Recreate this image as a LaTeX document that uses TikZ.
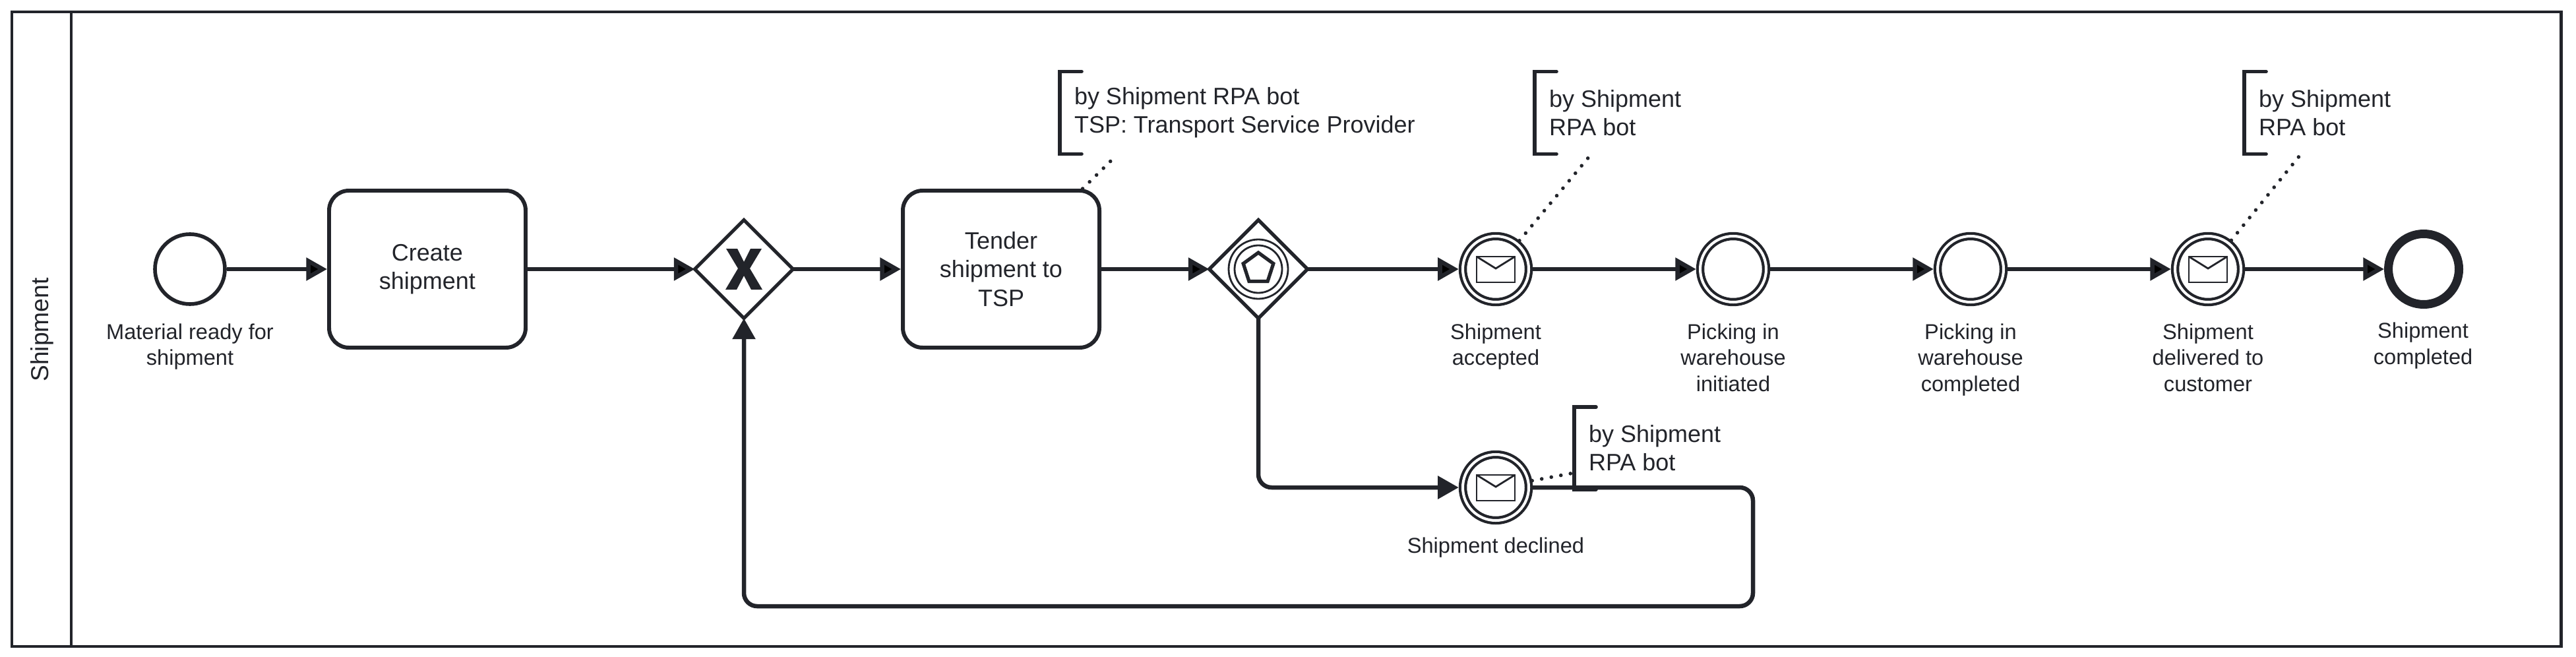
\documentclass[tikz,border=0pt]{standalone}
\usepackage{fontspec}
\setmainfont{Liberation Sans}
\usetikzlibrary{arrows.meta, positioning, shapes.geometric}
\definecolor{bpmnink}{HTML}{22242A}

% Envelope marker of a message event
\newcommand{\envelope}[1]{
    \draw[envelope line] ([shift={(-0.29, 0.19)}]#1.center) rectangle ([shift={(0.29, -0.2)}]#1.center);
    \draw[envelope line] ([shift={(-0.29, 0.19)}]#1.center) -- ([shift={(0, 0.01)}]#1.center) -- ([shift={(0.29, 0.19)}]#1.center);
}

\begin{document}
\begin{tikzpicture}[every node/.style={text=bpmnink, font=\fontsize{10.24}{12.3}\selectfont}]

        % Setup the styles
        \tikzset{lane line/.style={draw=bpmnink, line width=1.4pt},
                 task box/.style={rectangle, draw=bpmnink, line width=1.7pt, rounded corners=0.3cm,
                                  minimum width=2.98cm, minimum height=2.38cm, align=center, fill=white},
                 start event/.style={circle, draw=bpmnink, line width=1.6pt, minimum size=1.06cm, inner sep=0pt},
                 catch event/.style={circle, draw=bpmnink, line width=1.2pt, double=white,
                                     double distance=1.15pt, minimum size=1.0cm, inner sep=0pt, outer sep=1.75pt},
                 end event/.style={circle, draw=bpmnink, line width=3.7pt, minimum size=1.07cm, inner sep=0pt},
                 gateway/.style={diamond, aspect=1, draw=bpmnink, line width=1.5pt, minimum size=1.49cm,
                                 inner sep=0pt, outer sep=0pt, fill=white},
                 event label/.style={align=center, inner sep=0pt, font=\fontsize{9.28}{11.2}\selectfont},
                 anno box/.style={rectangle, minimum height=1.25cm, inner xsep=0.22cm, inner ysep=0pt,
                                  outer sep=0pt, align=left, anchor=west},
                 anno bracket/.style={draw=bpmnink, line width=1.6pt, line cap=round},
                 anno link/.style={draw=bpmnink, line width=1.6pt, line cap=round, dash pattern=on 0pt off 4.2pt,
                                   shorten >=0.05cm},
                 flow/.style={draw=bpmnink, line width=1.85pt, -{Triangle[length=9pt, width=9.6pt]}},
                 envelope line/.style={draw=bpmnink, line width=0.8pt}}

        \useasboundingbox (0, 0) rectangle (39.06, -9.96);

        % Draw the lane
        \node[rectangle, lane line, minimum width=38.65cm, minimum height=9.62cm] at (19.505, -4.99) (lane) {};
        \node[rotate=90, font=\fontsize{10.6}{12.7}\selectfont] at (0.64, -5.0) (lanelabel) {Shipment};
        \coordinate (bandtop) at (1.08, -0.18);
        \coordinate (bandbottom) at (1.08, -9.80);
        \coordinate (loopturn) at (26.58, -9.19);

        % Draw the tasks and events
        \node[start event] at (2.88, -4.08)      (materialready) {};
        \node[task box] at (6.48, -4.08)         (createshipment) {Create\\shipment};
        \node[gateway] at (11.28, -4.08)         (exclusive) {};
        \node[task box] at (15.18, -4.08)        (tender) {Tender\\shipment to\\TSP};
        \node[gateway] at (19.08, -4.08)         (eventbased) {};
        \node[catch event] at (22.68, -4.08)     (accepted) {};
        \node[catch event] at (26.28, -4.08)     (pickstart) {};
        \node[catch event] at (29.88, -4.08)     (pickdone) {};
        \node[catch event] at (33.48, -4.08)     (delivered) {};
        \node[end event] at (36.75, -4.08)       (completed) {};
        \node[catch event] at (22.68, -7.39)     (declined) {};

        % Markers of the gateways and events
        \node[circle, draw=bpmnink, line width=0.8pt, minimum size=0.9cm, inner sep=0pt] at (eventbased.center) (ringout) {};
        \node[circle, draw=bpmnink, line width=0.8pt, minimum size=0.72cm, inner sep=0pt] at (eventbased.center) (ringin) {};
        \node[regular polygon, regular polygon sides=5, draw=bpmnink, line width=1.5pt, minimum size=0.48cm,
              inner sep=0pt] at ([yshift=0.01cm]eventbased.center) (pentagon) {};
        \begin{scope}[shift={(exclusive.center)}]
            \fill[bpmnink] (-0.27, 0.31) -- (-0.10, 0.31) -- (0, 0.11) -- (0.10, 0.31) -- (0.27, 0.31)
                -- (0.09, 0.01) -- (0.28, -0.31) -- (0.11, -0.31) -- (0, -0.10) -- (-0.11, -0.31)
                -- (-0.28, -0.31) -- (-0.09, 0.01) -- cycle;
        \end{scope}
        \envelope{accepted}
        \envelope{delivered}
        \envelope{declined}

        % Labels under the events
        \node[event label, below=0.26cm of materialready] (materiallabel) {Material ready for\\shipment};
        \node[event label, below=0.26cm of accepted]      (acceptedlabel) {Shipment\\accepted};
        \node[event label, below=0.26cm of pickstart]     (pickstartlabel) {Picking in\\warehouse\\initiated};
        \node[event label, below=0.26cm of pickdone]      (pickdonelabel) {Picking in\\warehouse\\completed};
        \node[event label, below=0.26cm of delivered]     (deliveredlabel) {Shipment\\delivered to\\customer};
        \node[event label] at (36.74, -5.24)              (completedlabel) {Shipment\\completed};
        \node[event label, below=0.19cm of declined]      (declinedlabel) {Shipment declined};

        % Annotations
        \node[anno box] at (16.07, -1.71) (annotender)    {by Shipment RPA bot\\TSP: Transport Service Provider};
        \node[anno box] at (23.27, -1.71) (annoaccepted)  {by Shipment\\RPA bot};
        \node[anno box] at (34.03, -1.71) (annodelivered) {by Shipment\\RPA bot};
        \node[anno box] at (23.87, -6.795) (annodeclined)  {by Shipment\\RPA bot};

        \foreach \anno in {annotender, annoaccepted, annodelivered, annodeclined}
            \draw[anno bracket] ([xshift=0.33cm]\anno.north west) -- (\anno.north west)
                -- (\anno.south west) -- ([xshift=0.33cm]\anno.south west);

        % Connect the lane band
        \draw[lane line] (bandtop) -- (bandbottom);

        % Connect the nodes with arrows
        \draw[flow]
            (materialready) edge (createshipment)
            (createshipment) edge (exclusive)
            (exclusive) edge (tender)
            (tender) edge (eventbased)
            (eventbased) edge (accepted)
            (accepted) edge (pickstart)
            (pickstart) edge (pickdone)
            (pickdone) edge (delivered)
            (delivered) edge (completed);
        \draw[flow, rounded corners=0.2cm] (eventbased.south) |- (declined);
        \draw[flow, rounded corners=0.2cm] (declined) -| (loopturn) -| (exclusive.south);

        % Dotted links to the annotations
        \draw[anno link] (tender) -- (annotender.198);
        \draw[anno link] (accepted) -- (annoaccepted.240);
        \draw[anno link] (delivered) -- (annodelivered.240);
        \draw[anno link] (declined) -- (annodeclined.197);

    \end{tikzpicture}
\end{document}
